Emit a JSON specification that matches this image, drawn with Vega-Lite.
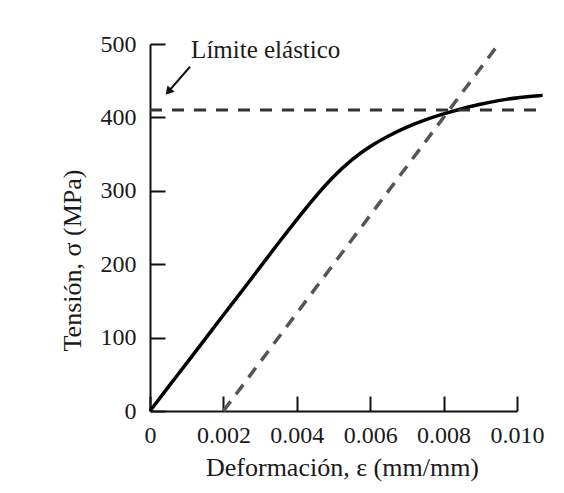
{
  "$schema": "https://vega.github.io/schema/vega-lite/v6.json",
  "width": 367,
  "height": 367,
  "autosize": {"type": "none"},
  "padding": {"left": 150, "top": 44, "right": 47, "bottom": 82},
  "background": "white",
  "config": {
    "view": {"stroke": null},
    "font": "Liberation Serif",
    "axis": {
      "grid": false,
      "domainColor": "#111",
      "domainWidth": 2,
      "tickColor": "#111",
      "tickWidth": 2,
      "tickSize": -15,
      "labelFont": "Liberation Serif",
      "labelFontSize": 24,
      "labelColor": "#1a1a1a",
      "labelFlush": false,
      "labelOverlap": false,
      "titleFont": "Liberation Serif",
      "titleFontSize": 26,
      "titleFontWeight": "normal",
      "titleColor": "#1a1a1a"
    }
  },
  "layer": [
    {
      "data": {"values": [
        {"x": 0, "y": 0}, {"x": 0.0005, "y": 33}, {"x": 0.001, "y": 65}, {"x": 0.0015, "y": 98},
        {"x": 0.002, "y": 131}, {"x": 0.0025, "y": 163}, {"x": 0.003, "y": 196}, {"x": 0.0035, "y": 229},
        {"x": 0.004, "y": 261}, {"x": 0.0045, "y": 292}, {"x": 0.005, "y": 320}, {"x": 0.0055, "y": 343},
        {"x": 0.006, "y": 361}, {"x": 0.0065, "y": 375}, {"x": 0.007, "y": 387}, {"x": 0.0075, "y": 397},
        {"x": 0.008, "y": 405}, {"x": 0.0085, "y": 412}, {"x": 0.009, "y": 418}, {"x": 0.0095, "y": 423},
        {"x": 0.01, "y": 427}, {"x": 0.0107, "y": 430}
      ]},
      "mark": {"type": "line", "color": "#000", "strokeWidth": 3.5, "interpolate": "basis", "clip": false},
      "encoding": {
        "x": {
          "field": "x", "type": "quantitative",
          "scale": {"domain": [0, 0.01], "nice": false},
          "axis": {
            "values": [0, 0.002, 0.004, 0.006, 0.008, 0.01],
            "labelExpr": "datum.value == 0 ? '0' : format(datum.value, '.3f')",
            "labelPadding": 27,
            "title": "Deformación, ε (mm/mm)",
            "titleX": 192, "titleY": 56, "titleBaseline": "middle", "titleAlign": "center"
          }
        },
        "y": {
          "field": "y", "type": "quantitative",
          "scale": {"domain": [0, 500], "nice": false},
          "axis": {
            "values": [0, 100, 200, 300, 400, 500],
            "labelPadding": 29,
            "title": "Tensión, σ (MPa)",
            "titleX": -78, "titleY": 216, "titleBaseline": "middle", "titleAlign": "center", "titleAngle": -90
          }
        }
      }
    },
    {
      "data": {"values": [{"x": 0, "y": 410}, {"x": 0.0107, "y": 410}]},
      "mark": {"type": "line", "color": "#333", "strokeWidth": 3, "strokeDash": [12, 10], "clip": false},
      "encoding": {"x": {"field": "x", "type": "quantitative"}, "y": {"field": "y", "type": "quantitative"}}
    },
    {
      "data": {"values": [{"x": 0.002, "y": 0}, {"x": 0.0095, "y": 500}]},
      "mark": {"type": "line", "color": "#555", "strokeWidth": 3.5, "strokeDash": [12, 9], "clip": false},
      "encoding": {"x": {"field": "x", "type": "quantitative"}, "y": {"field": "y", "type": "quantitative"}}
    },
    {
      "data": {"values": [{"x": 0.00109, "y": 469, "x2": 0.0005, "y2": 435}]},
      "mark": {"type": "rule", "color": "#111", "strokeWidth": 2},
      "encoding": {
        "x": {"field": "x", "type": "quantitative"}, "y": {"field": "y", "type": "quantitative"},
        "x2": {"field": "x2"}, "y2": {"field": "y2"}
      }
    },
    {
      "data": {"values": [{"x": 0.0005, "y": 435}]},
      "mark": {"type": "point", "shape": "triangle-up", "filled": true, "color": "#111", "opacity": 1, "size": 90, "angle": 221},
      "encoding": {"x": {"field": "x", "type": "quantitative"}, "y": {"field": "y", "type": "quantitative"}}
    },
    {
      "data": {"values": [{"x": 0.00112, "y": 481, "label": "Límite elástico"}]},
      "mark": {"type": "text", "align": "left", "baseline": "alphabetic", "font": "Liberation Serif", "fontSize": 25, "color": "#1a1a1a"},
      "encoding": {
        "x": {"field": "x", "type": "quantitative"}, "y": {"field": "y", "type": "quantitative"},
        "text": {"field": "label"}
      }
    }
  ]
}
